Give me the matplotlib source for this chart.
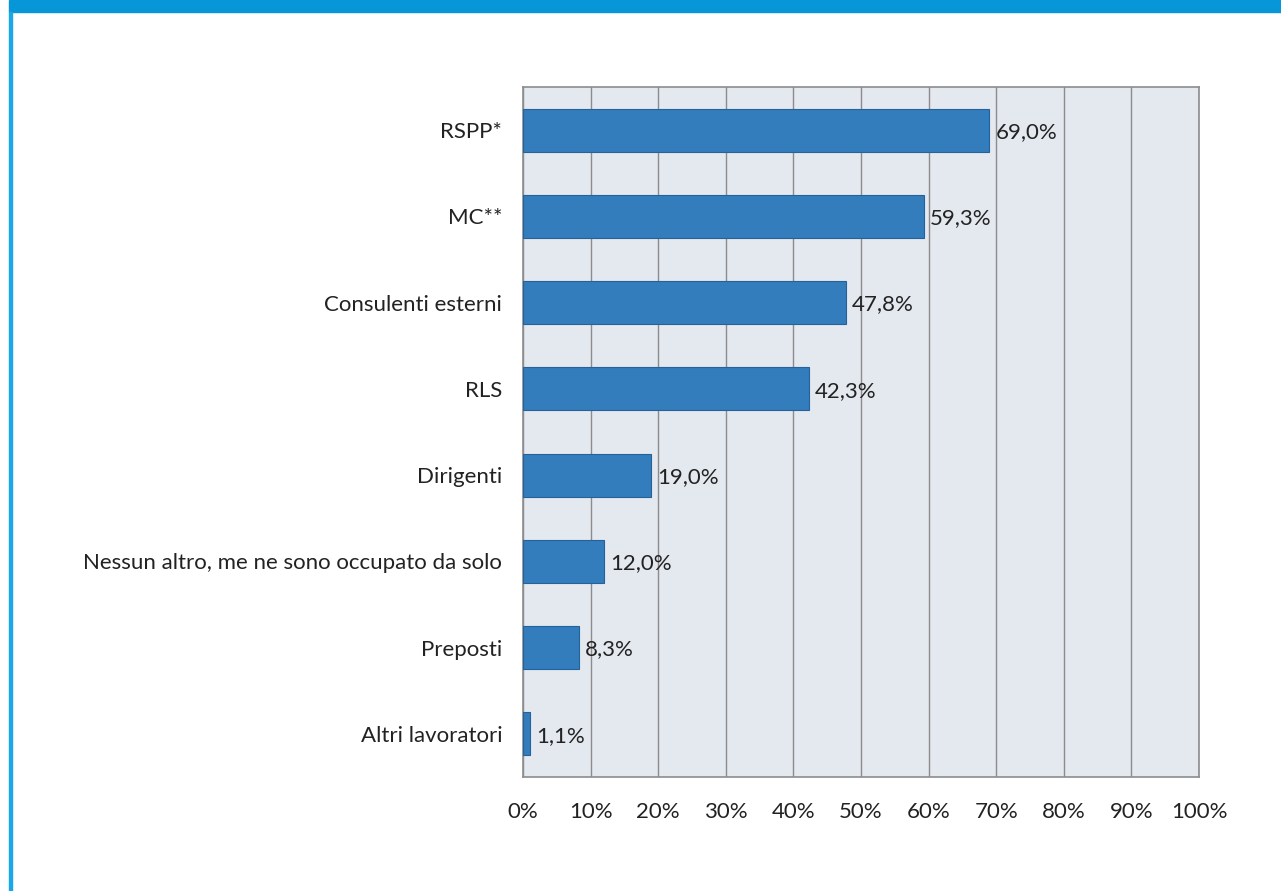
import matplotlib.pyplot as plt
from matplotlib.patches import Rectangle

# data
categories = ['RSPP*', 'MC**', 'Consulenti esterni', 'RLS', 'Dirigenti',
              'Nessun altro, me ne sono occupato da solo', 'Preposti', 'Altri lavoratori']
values = [69.0, 59.3, 47.8, 42.3, 19.0, 12.0, 8.3, 1.1]
xticks = [0, 10, 20, 30, 40, 50, 60, 70, 80, 90, 100]

plt.rcParams['font.family'] = ['Lato', 'DejaVu Sans']

W, H = 1281, 891
fig = plt.figure(figsize=(W / 100, H / 100), dpi=100)

# blue frame: top band and left line
fig.patches.append(Rectangle((9 / W, 1 - 12 / H), 1 - 9 / W, 12 / H,
                             transform=fig.transFigure, color='#0796d8', zorder=0))
fig.patches.append(Rectangle((9 / W, 0), 3 / W, 1 - 12 / H,
                             transform=fig.transFigure, color='#1aa7e6', zorder=0))

ax = fig.add_axes([523 / W, 1 - 777 / H, (1199 - 523) / W, (777 - 87) / H])
ax.set_facecolor('#e4e8ef')

fs = 16
y = list(range(len(categories)))
ax.barh(y, values, height=0.5, color='#337dbd', edgecolor='#25629a', linewidth=0.8, zorder=3)
for yi, v in zip(y, values):
    ax.text(v + 0.9, yi + 0.02, f'{v:.1f}%'.replace('.', ','), va='center', ha='left',
            fontsize=fs, color='#222222', zorder=4)

ax.set_ylim(len(categories) - 0.5, -0.5)
ax.set_xlim(0, 100)
ax.set_xticks(xticks)
ax.set_xticklabels([f'{t}%' for t in xticks], fontsize=fs, color='#222222')
ax.set_yticks(y)
ax.set_yticklabels(categories, fontsize=fs, color='#222222')
ax.tick_params(axis='both', length=0)
ax.tick_params(axis='x', pad=18)
ax.tick_params(axis='y', pad=15)
ax.xaxis.grid(True, color='#8c8c8c', linewidth=1)
ax.set_axisbelow(True)
for s in ax.spines.values():
    s.set_color('#8c8c8c')
    s.set_linewidth(1.2)

fig.savefig('out.png', dpi=100)
